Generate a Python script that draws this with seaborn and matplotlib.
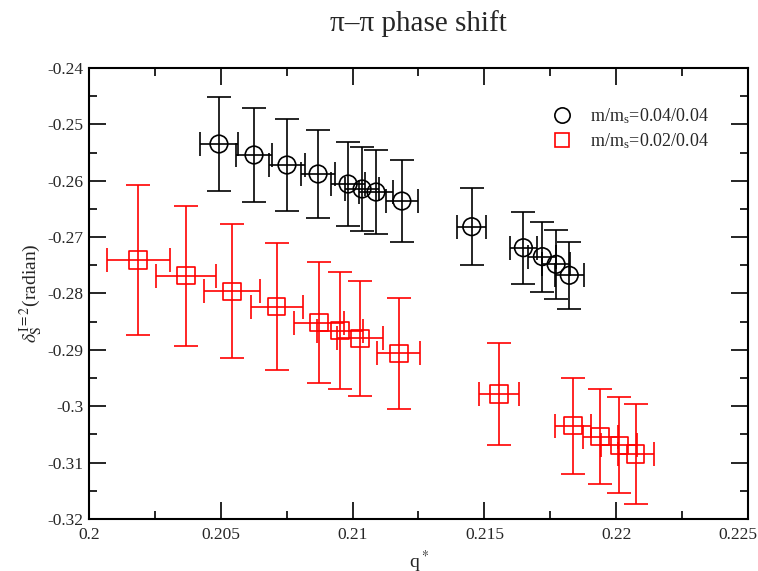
import matplotlib
matplotlib.use('Agg')
import matplotlib.pyplot as plt
import matplotlib.transforms as mtransforms
from matplotlib.ticker import MultipleLocator
import seaborn as sns
import numpy as np
import pandas as pd

# m/m_s = 0.04/0.04
q_a = [0.20493, 0.20626, 0.20751, 0.20869, 0.20983, 0.21036, 0.21089, 0.21187,
       0.21452, 0.21648, 0.21720, 0.21772, 0.21822]
d_a = [-0.25348, -0.25543, -0.25721, -0.25880, -0.26058, -0.26146, -0.26200, -0.26360,
       -0.26815, -0.27188, -0.27346, -0.27483, -0.27677]
dq_a = [0.00072, 0.00070, 0.00067, 0.00065, 0.00064, 0.00063, 0.00063, 0.00062,
        0.00055, 0.00051, 0.00053, 0.00054, 0.00055]
dd_a = [0.0084, 0.0083, 0.0081, 0.0078, 0.0075, 0.0075, 0.0075, 0.0073,
        0.0068, 0.0064, 0.0062, 0.0061, 0.0059]

# m/m_s = 0.02/0.04
q_b = [0.20187, 0.20368, 0.20542, 0.20712, 0.20873, 0.20952, 0.21028, 0.21175,
       0.21555, 0.21837, 0.21939, 0.22012, 0.22074]
d_b = [-0.27406, -0.27684, -0.27961, -0.28233, -0.28517, -0.28659, -0.28795, -0.29062,
       -0.29783, -0.30345, -0.30539, -0.30693, -0.30847]
dq_b = [0.00120, 0.00114, 0.00106, 0.00099, 0.00095, 0.00088, 0.00088, 0.00082,
        0.00075, 0.00068, 0.00066, 0.00068, 0.00069]
dd_b = [0.0133, 0.0124, 0.0119, 0.0112, 0.0107, 0.0104, 0.0102, 0.0098,
        0.0090, 0.0085, 0.0084, 0.0085, 0.0088]

xticks = ['0.2', '0.205', '0.21', '0.215', '0.22', '0.225']
yticks = ['-0.32', '-0.31', '-0.3', '-0.29', '-0.28', '-0.27', '-0.26', '-0.25', '-0.24']

lab_a = 'm/m$_\\mathregular{s}$=0.04/0.04'
lab_b = 'm/m$_\\mathregular{s}$=0.02/0.04'

df = pd.concat([
    pd.DataFrame({'q': q_a, 'd': d_a, 'dq': dq_a, 'dd': dd_a, 'set': lab_a}),
    pd.DataFrame({'q': q_b, 'd': d_b, 'dq': dq_b, 'dd': dd_b, 'set': lab_b}),
])

sns.set_style('ticks')
plt.rcParams['font.family'] = ['Liberation Serif', 'DejaVu Serif']
plt.rcParams['mathtext.fontset'] = 'stix'
plt.rcParams['axes.unicode_minus'] = False

fig = plt.figure(figsize=(7.58, 5.71), dpi=100)
ax = fig.add_axes([0.1174, 0.0911, 0.8694, 0.7898])

colors = {lab_a: 'black', lab_b: 'red'}
for name, g in df.groupby('set', sort=False):
    ax.errorbar(g['q'], g['d'], xerr=g['dq'], yerr=g['dd'], fmt='none',
                ecolor=colors[name], elinewidth=1.4, capsize=8.5, capthick=1.4,
                alpha=0.85, zorder=2)

sns.scatterplot(data=df, x='q', y='d', hue='set', style='set',
                palette=colors, markers={lab_a: 'o', lab_b: 's'},
                s=160, linewidth=1.2, ax=ax, zorder=3, legend=False)
# make the markers hollow, keeping seaborn's colours as edges
for coll in ax.collections:
    fc = coll.get_facecolors()
    if len(fc):
        coll.set_edgecolors(fc)
        coll.set_facecolors('none')

h1 = plt.Line2D([], [], ls='none', marker='o', ms=11, mfc='none', mec='black', mew=1.2)
h2 = plt.Line2D([], [], ls='none', marker='s', ms=10, mfc='none', mec='red', mew=1.2)
ax.legend([h1, h2], [lab_a, lab_b], frameon=False, fontsize=13,
          loc='upper left', bbox_to_anchor=(0.665, 0.95), handletextpad=0.6,
          labelspacing=0.3)

ax.set_xlim(0.2, 0.225)
ax.set_ylim(-0.32, -0.24)
ax.set_xticks(np.arange(0.2, 0.2251, 0.005))
ax.set_xticklabels(xticks)
ax.set_yticks(np.arange(-0.32, -0.2399, 0.01))
ax.set_yticklabels(yticks)
ax.xaxis.set_minor_locator(MultipleLocator(0.0025))
ax.yaxis.set_minor_locator(MultipleLocator(0.005))
ax.tick_params(which='both', direction='in', top=True, right=True, labelsize=12.5,
               color='black', width=1.2)
ax.tick_params(which='major', length=12, pad=4)
ax.tick_params(axis='x', which='major', pad=6)
ax.tick_params(which='minor', length=6)
for sp in ax.spines.values():
    sp.set_linewidth(1.5)
    sp.set_color('black')

# last x label sits against the right edge of the figure
last = ax.get_xticklabels()[-1]
last.set_horizontalalignment('right')
last.set_transform(last.get_transform() + mtransforms.ScaledTranslation(9 / 100, 0, fig.dpi_scale_trans))

ax.set_xlabel('q$^*$', fontsize=14, labelpad=4)
ax.set_ylabel('$\\delta_\\mathrm{S}^\\mathrm{I=2}$(radian)', fontsize=14, labelpad=2)
ax.set_title('\u03c0\u2013\u03c0 phase shift', fontsize=21, pad=27)

fig.savefig('out.png', dpi=100)
